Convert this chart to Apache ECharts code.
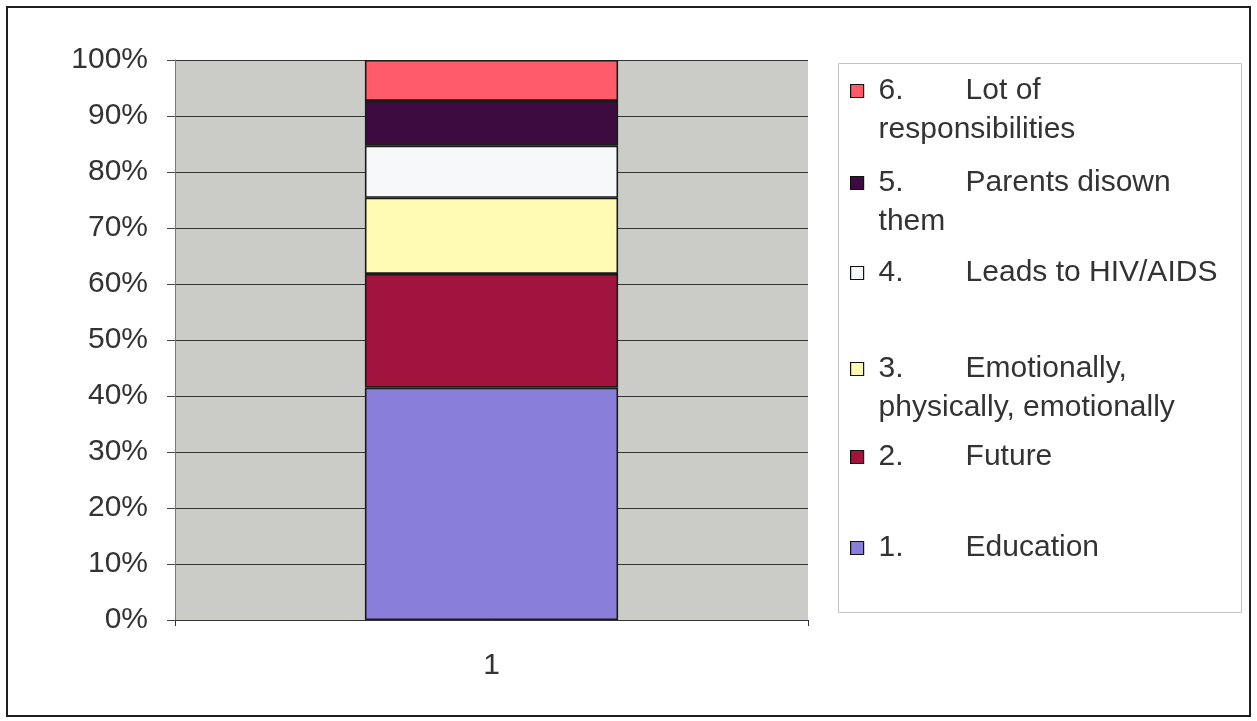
<!DOCTYPE html>
<html>
<head>
<meta charset="utf-8">
<script src="https://cdn.jsdelivr.net/npm/echarts@6/dist/echarts.min.js"></script>
<style>
  html, body { margin: 0; padding: 0; background: #ffffff; }
  #chart { width: 1257px; height: 721px; }
</style>
</head>
<body>
<div id="chart"></div>
<script>
// Category on the x axis (a single stacked column)
const categories = ['1'];

// Response groups, bottom of the stack first
const seriesNames = [
  '1. Education',
  '2. Future',
  '3. Emotionally, physically, emotionally',
  '4. Leads to HIV/AIDS',
  '5. Parents disown them',
  '6. Lot of responsibilities'
];

// Share of responses per group, in percent
const shares = [41.5, 20.3, 13.6, 9.3, 8.0, 7.3];

// Legend entry text: number, first line, optional wrapped line
const legendNumbers = ['1.', '2.', '3.', '4.', '5.', '6.'];
const legendFirst = ['Education', 'Future', 'Emotionally,', 'Leads to HIV/AIDS', 'Parents disown', 'Lot of'];
const legendSecond = ['', '', 'physically, emotionally', '', 'them', 'responsibilities'];

// Percent axis ticks
const yTicks = { min: 0, max: 100, interval: 10 };

const colors = ['#8A7EDB', '#A0143E', '#FFFBB5', '#F6F8FA', '#3D0B3F', '#FF5B6B'];

const FONT = "'Liberation Sans', Arial, sans-serif";
const FS = 30;
const LH = 39;

const chart = echarts.init(document.getElementById('chart'), null, { renderer: 'canvas' });

// Vertical centre of each legend swatch, entries 1..6
const legendCentres = [548, 457, 369, 273, 183, 91];

const legends = seriesNames.map((name, i) => {
  const twoLines = legendSecond[i] !== '';
  const blockH = twoLines ? LH * 3 : LH;
  return {
    data: [name],
    left: 850,
    top: legendCentres[i] - blockH / 2,
    padding: 0,
    orient: 'vertical',
    selectedMode: false,
    icon: 'rect',
    itemWidth: 13,
    itemHeight: 13,
    itemStyle: { borderColor: '#111', borderWidth: 1.2 },
    textStyle: {
      fontFamily: FONT,
      fontSize: FS,
      color: '#333',
      lineHeight: LH,
      rich: {
        a: { width: 10, fontFamily: FONT, fontSize: FS, lineHeight: LH },
        n: { width: 87, fontFamily: FONT, fontSize: FS, color: '#333', lineHeight: LH },
        t: { fontFamily: FONT, fontSize: FS, color: '#333', lineHeight: LH }
      }
    },
    formatter: function () {
      const first = '{a| }{n|' + legendNumbers[i] + '}{t|' + legendFirst[i] + '}';
      if (!twoLines) return first;
      return '{a| }\n' + first + '\n{a| }{t|' + legendSecond[i] + '}';
    }
  };
});

const option = {
  animation: false,
  backgroundColor: '#ffffff',
  textStyle: { fontFamily: FONT },
  graphic: [
    {
      type: 'rect',
      z: -10,
      shape: { x: 7, y: 7, width: 1243, height: 709 },
      style: { fill: 'none', stroke: '#1e1e1e', lineWidth: 2 }
    },
    {
      type: 'rect',
      z: -10,
      shape: { x: 838.5, y: 63.5, width: 403, height: 549 },
      style: { fill: '#ffffff', stroke: '#c4c4c4', lineWidth: 1 }
    }
  ],
  grid: {
    left: 175,
    right: 449,
    top: 60,
    bottom: 101,
    show: true,
    backgroundColor: '#CBCBC8',
    borderWidth: 0
  },
  legend: legends,
  xAxis: {
    type: 'category',
    data: categories,
    axisLine: { show: true, lineStyle: { color: '#333', width: 1 } },
    axisTick: { show: true, length: 6, lineStyle: { color: '#333' } },
    axisLabel: { fontFamily: FONT, fontSize: FS, color: '#333', margin: 31 }
  },
  yAxis: {
    type: 'value',
    min: yTicks.min,
    max: yTicks.max,
    interval: yTicks.interval,
    axisLine: { show: true, lineStyle: { color: '#777', width: 1 } },
    axisTick: { show: true, length: 8, lineStyle: { color: '#444' } },
    axisLabel: {
      fontFamily: FONT,
      fontSize: FS,
      color: '#333',
      margin: 27,
      formatter: '{value}%'
    },
    splitLine: { show: true, lineStyle: { color: '#333', width: 1 } }
  },
  series: seriesNames.map((name, i) => ({
    name: name,
    type: 'bar',
    stack: 'total',
    barWidth: '40%',
    data: [shares[i]],
    itemStyle: { color: colors[i], borderColor: '#1a1a1a', borderWidth: 1.6 }
  }))
};

chart.setOption(option);
</script>
</body>
</html>
